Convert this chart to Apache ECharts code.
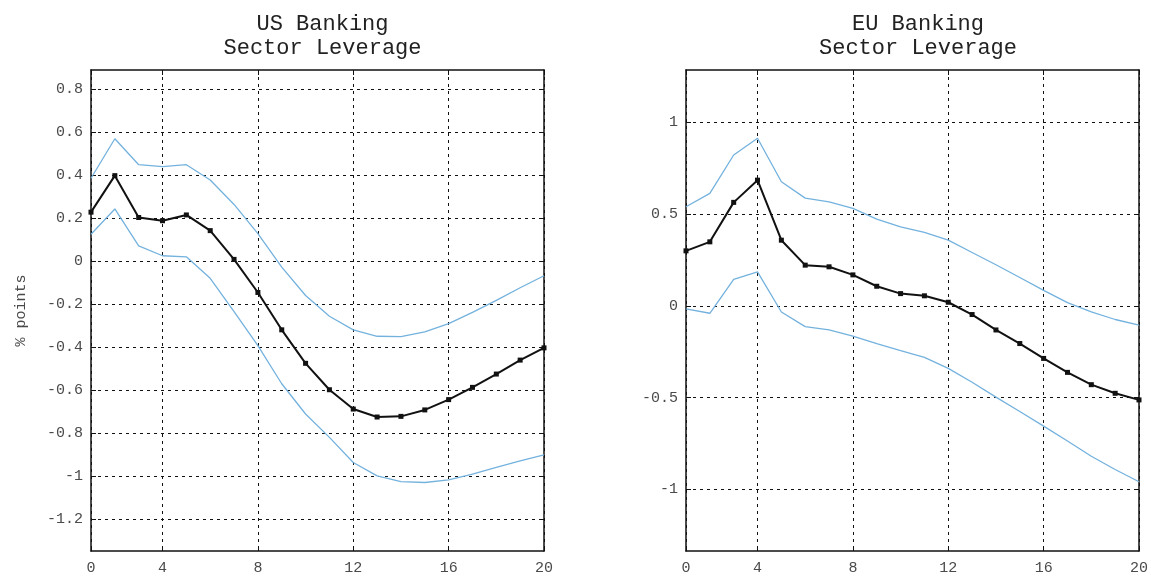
<!DOCTYPE html>
<html><head><meta charset="utf-8">
<script src="https://cdn.jsdelivr.net/npm/echarts@6/dist/echarts.min.js"></script>
<style>html,body{margin:0;padding:0;background:#fff}#c{width:1151px;height:577px}</style>
</head><body><div id="c"></div>
<script>
// ---- data ----
const periods = [1,2,3,4,5,6,7,8,9,10,11,12,13,14,15,16,17,18,19,20];
const xTickPos = [1,4,8,12,16,20];
const xTickLabels = ['0','4','8','12','16','20'];

const usMedian = [0.228,0.398,0.203,0.188,0.215,0.142,0.008,-0.146,-0.320,-0.476,-0.599,-0.689,-0.726,-0.723,-0.693,-0.645,-0.588,-0.526,-0.461,-0.404];
const usUpper  = [0.386,0.570,0.449,0.440,0.449,0.378,0.264,0.128,-0.028,-0.160,-0.257,-0.320,-0.350,-0.352,-0.330,-0.291,-0.239,-0.183,-0.124,-0.068];
const usLower  = [0.125,0.243,0.071,0.025,0.020,-0.080,-0.235,-0.394,-0.571,-0.712,-0.821,-0.938,-1.000,-1.027,-1.031,-1.019,-0.992,-0.961,-0.930,-0.902];

const euMedian = [0.300,0.349,0.564,0.685,0.358,0.222,0.213,0.169,0.107,0.067,0.055,0.020,-0.047,-0.131,-0.205,-0.286,-0.362,-0.429,-0.476,-0.512];
const euUpper  = [0.540,0.613,0.822,0.913,0.676,0.587,0.567,0.531,0.473,0.431,0.400,0.358,0.291,0.224,0.155,0.085,0.018,-0.033,-0.074,-0.105];
const euLower  = [-0.016,-0.040,0.145,0.185,-0.033,-0.113,-0.131,-0.164,-0.205,-0.243,-0.280,-0.340,-0.416,-0.497,-0.575,-0.655,-0.736,-0.819,-0.891,-0.958];

const usYTicks = [-1.2,-1,-0.8,-0.6,-0.4,-0.2,0,0.2,0.4,0.6,0.8];
const euYTicks = [-1,-0.5,0,0.5,1];

const titles = ['US Banking\nSector Leverage', 'EU Banking\nSector Leverage'];
const yName = '% points';
const usY = {min: -1.35, max: 0.89, ticks: usYTicks};
const euY = {min: -1.335, max: 1.285, ticks: euYTicks};

// ---- styles ----
const FONT = '"Liberation Mono", "DejaVu Sans Mono", monospace';
const LABEL_COLOR = '#4a4a4a';
const BLUE = '#74b2de';
const isTick = (idx, val) => xTickPos.indexOf(+val) >= 0;
const axisLineStyle = {show: true, onZero: false, lineStyle: {color: '#111', width: 1.5}};
const gridLineStyle = {show: true, lineStyle: {color: '#111', width: 1, type: [3, 4]}};

const grids = [
  {left: 91, right: 607, top: 70, bottom: 26},
  {left: 686, right: 11, top: 70, bottom: 26}
];

function xAxes(gi) {
  return [
    {
      type: 'category', gridIndex: gi, data: periods, boundaryGap: false, position: 'bottom',
      axisLine: axisLineStyle,
      axisTick: {show: true, inside: true, length: 5, interval: isTick, lineStyle: {color: '#111'}},
      splitLine: Object.assign({interval: isTick}, gridLineStyle),
      axisLabel: {
        interval: isTick, margin: 10, fontFamily: FONT, fontSize: 15, color: LABEL_COLOR,
        formatter: v => xTickLabels[xTickPos.indexOf(+v)]
      }
    },
    {
      type: 'category', gridIndex: gi, data: periods, boundaryGap: false, position: 'top',
      axisLine: axisLineStyle,
      axisTick: {show: true, inside: true, length: 5, interval: isTick, lineStyle: {color: '#111'}},
      splitLine: {show: false}, axisLabel: {show: false}
    }
  ];
}

function yAxes(gi, r, withName) {
  const left = {
    type: 'value', gridIndex: gi, position: 'left', min: r.min, max: r.max,
    axisLine: axisLineStyle,
    axisTick: {show: true, inside: true, length: 5, customValues: r.ticks, lineStyle: {color: '#111'}},
    splitLine: Object.assign({customValues: r.ticks}, gridLineStyle),
    axisLabel: {customValues: r.ticks, margin: 8, fontFamily: FONT, fontSize: 15, color: LABEL_COLOR}
  };
  if (withName) {
    Object.assign(left, {
      name: yName, nameLocation: 'middle', nameRotate: 90, nameGap: 62,
      nameTextStyle: {fontFamily: FONT, fontSize: 15, color: LABEL_COLOR}
    });
  }
  const right = {
    type: 'value', gridIndex: gi, position: 'right', min: r.min, max: r.max,
    axisLine: axisLineStyle,
    axisTick: {show: true, inside: true, length: 5, customValues: r.ticks, lineStyle: {color: '#111'}},
    splitLine: {show: false}, axisLabel: {show: false}
  };
  return [left, right];
}

function bandSeries(data, xi, yi) {
  return {type: 'line', data: data, xAxisIndex: xi, yAxisIndex: yi, showSymbol: false, symbol: 'none',
    lineStyle: {color: BLUE, width: 1.3}, z: 3, silent: true};
}
function medianSeries(data, xi, yi) {
  return {type: 'line', data: data, xAxisIndex: xi, yAxisIndex: yi, symbol: 'rect', symbolSize: 5,
    itemStyle: {color: '#111'}, lineStyle: {color: '#111', width: 2}, z: 4, silent: true};
}

const option = {
  animation: false,
  backgroundColor: '#fff',
  title: [
    {text: titles[0], left: 317.5, top: 7, textAlign: 'center',
     textStyle: {fontFamily: FONT, fontSize: 22, fontWeight: 'normal', color: '#222', lineHeight: 24}},
    {text: titles[1], left: 913, top: 7, textAlign: 'center',
     textStyle: {fontFamily: FONT, fontSize: 22, fontWeight: 'normal', color: '#222', lineHeight: 24}}
  ],
  grid: grids,
  xAxis: [].concat(xAxes(0), xAxes(1)),
  yAxis: [].concat(yAxes(0, usY, true), yAxes(1, euY, false)),
  series: [
    bandSeries(usUpper, 0, 0), bandSeries(usLower, 0, 0), medianSeries(usMedian, 0, 0),
    bandSeries(euUpper, 2, 2), bandSeries(euLower, 2, 2), medianSeries(euMedian, 2, 2)
  ]
};

const chart = echarts.init(document.getElementById('c'), null, {renderer: 'canvas'});
chart.setOption(option);
</script>
</body></html>
